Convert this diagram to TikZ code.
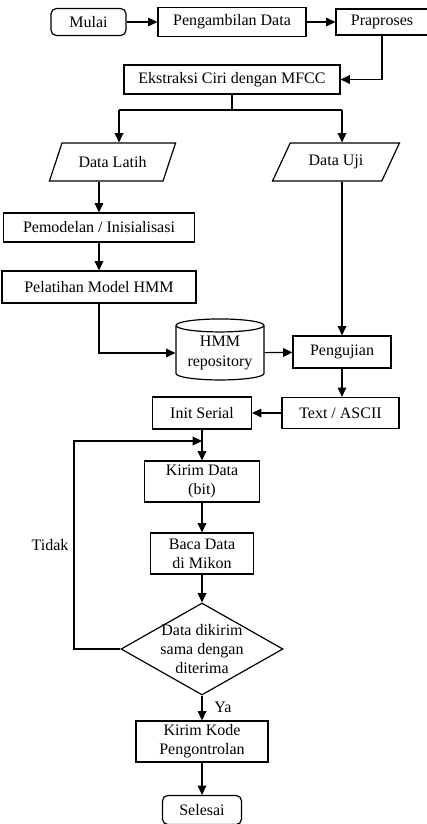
\documentclass[tikz,border=0pt]{standalone}
\usepackage{fontspec}
\setmainfont{Liberation Serif}
\usepackage{tikz}
\usetikzlibrary{arrows.meta,shapes.geometric}

\tikzset{
	proses/.style={draw, rectangle, line width=0.9pt, inner sep=0pt, align=center},
	terminal/.style={proses, rounded corners=4pt},
	dataio/.style={draw, trapezium, trapezium left angle=53, trapezium right angle=127, trapezium stretches=true, line width=0.9pt, inner sep=0pt, minimum width=95.25pt, minimum height=28.5pt},
	panah/.style={line width=0.9pt, -{Triangle[length=7pt,width=6.5pt]}},
	garis/.style={line width=0.9pt}
}

\begin{document}
\begin{tikzpicture}[x=0.75pt, y=-0.75pt, font=\fontsize{12}{14.4}\selectfont]
	\useasboundingbox (0,0) rectangle (426,824);
	\node (mulai) [terminal, minimum width=56.25pt, minimum height=20.25pt] at (88.5,22) {Mulai};
	\node (ambil) [proses, minimum width=111pt, minimum height=21.75pt] at (232,22) {Pengambilan Data};
	\node (praproses) [proses, minimum width=69pt, minimum height=19.5pt] at (382,22) {Praproses};
	\node (ekstraksi) [proses, minimum width=162pt, minimum height=21.75pt] at (232,79.5) {Ekstraksi Ciri dengan MFCC};
	\node (latih) [dataio] at (112.5,162) {Data Latih};
	\node (uji) [dataio] at (336,162) {Data Uji};
	\node (pemodelan) [proses, minimum width=143.25pt, minimum height=21.75pt] at (99,227.5) {Pemodelan / Inisialisasi};
	\node (pelatihan) [proses, minimum width=145.5pt, minimum height=24pt] at (99,287) {Pelatihan Model HMM};
	\node (repo) [draw, cylinder, shape border rotate=90, aspect=0.2, line width=0.9pt, inner sep=0pt, minimum width=66pt, minimum height=45.75pt, align=center] at (220,353) {HMM\\repository};
	\node (pengujian) [proses, minimum width=73.5pt, minimum height=24pt] at (342,352) {Pengujian};
	\node (teks) [proses, minimum width=87.75pt, minimum height=23.25pt] at (340.5,413) {Text / ASCII};
	\node (init) [proses, minimum width=74.25pt, minimum height=24pt] at (202,413) {Init Serial};
	\node (kirim) [proses, minimum width=86.25pt, minimum height=30.75pt] at (202,481.5) {Kirim Data\\(bit)};
	\node (baca) [proses, minimum width=77.25pt, minimum height=30.75pt] at (202,553.5) {Baca Data\\di Mikon};
	\node (cek) [draw, diamond, line width=0.9pt, inner sep=0pt, minimum width=121.5pt, minimum height=69pt] at (202,649) {};
	\node (cekteks) [align=center] at (cek) {Data dikirim\\sama dengan\\diterima};
	\node (kode) [proses, minimum width=99pt, minimum height=30.75pt] at (202,741.5) {Kirim Kode\\Pengontrolan};
	\node (selesai) [terminal, minimum width=59.25pt, minimum height=21.75pt] at (202,810) {Selesai};
	\node (tidak) at (50,545) {Tidak};
	\node (ya) at (223,707) {Ya};
	\coordinate (kiri) at (119,110);
	\coordinate (kanan) at (342,110);
	\coordinate (balik) at (74,441);
	\draw[panah] (mulai) -- (ambil);
	\draw[panah] (ambil) -- (praproses);
	\draw[panah] (praproses.south) |- (ekstraksi.east);
	\draw[garis] (ekstraksi.south) -- (ekstraksi.south |- kiri);
	\draw[garis] (kiri) -- (kanan);
	\draw[panah] (kiri) -- (kiri |- latih.north);
	\draw[panah] (kanan) -- (kanan |- uji.north);
	\draw[panah] (pemodelan.north |- latih.south) -- (pemodelan.north);
	\draw[panah] (pemodelan) -- (pelatihan);
	\draw[panah] (pelatihan.south) |- (repo.west);
	\draw[panah] (repo) -- (pengujian);
	\draw[panah] (pengujian.north |- uji.south) -- (pengujian.north);
	\draw[panah] (pengujian) -- (pengujian |- teks.north);
	\draw[panah] (teks) -- (init);
	\draw[panah] (init) -- (kirim);
	\draw[panah] (kirim) -- (baca);
	\draw[panah] (baca) -- (cek);
	\draw[panah] (cek.west) -| (balik) -- (balik -| init.south);
	\draw[panah] (cek) -- (kode);
	\draw[panah] (kode) -- (selesai);
\end{tikzpicture}
\end{document}
